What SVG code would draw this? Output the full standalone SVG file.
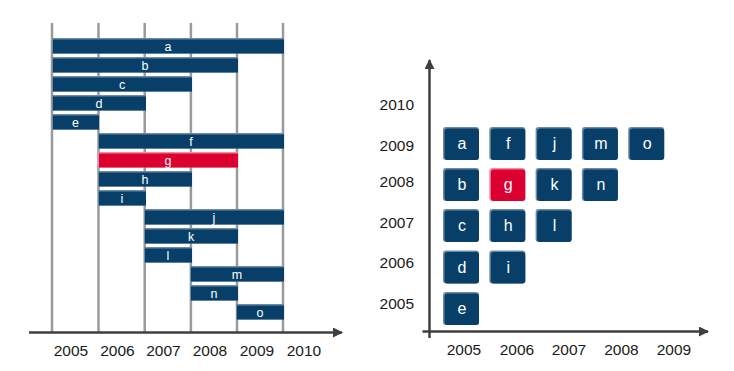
<svg xmlns="http://www.w3.org/2000/svg" width="734" height="371" viewBox="0 0 734 371">
<style>
.grid{stroke:#9a9a9a;stroke-width:2.5}
.axis{stroke:#3f3f3f;stroke-width:2.5;fill:none}
.hl{fill:#6d8aa3}
.bar{fill:#073f69}
.red{fill:#dc0030}
.hlr{fill:#f08a9e}
.lbl{font-family:"Liberation Sans",Arial,sans-serif;font-size:12.5px;fill:#ffffff;text-anchor:middle}
.sq{font-family:"Liberation Sans",Arial,sans-serif;font-size:16px;fill:#ffffff;text-anchor:middle}
.yr{font-family:"Liberation Sans",Arial,sans-serif;font-size:15.5px;fill:#1a1a1a}
</style>
<defs>
<marker id="arr" viewBox="0 0 10 10" refX="9" refY="5" markerWidth="4" markerHeight="4" orient="auto" markerUnits="strokeWidth">
<path d="M0,0 L10,5 L0,10 z" fill="#3f3f3f"/>
</marker>
</defs>
<rect width="734" height="371" fill="#ffffff"/>
<g id="connectors">
<line class="grid" x1="52" y1="23" x2="52" y2="332"/>
<line class="grid" x1="98.5" y1="23" x2="98.5" y2="332"/>
<line class="grid" x1="144.7" y1="23" x2="144.7" y2="332"/>
<line class="grid" x1="190.9" y1="23" x2="190.9" y2="332"/>
<line class="grid" x1="237" y1="23" x2="237" y2="332"/>
<line class="grid" x1="283" y1="23" x2="283" y2="332"/>
<line class="axis" x1="29" y1="332.5" x2="342" y2="332.5" marker-end="url(#arr)"/>
<line class="axis" x1="429.5" y1="338" x2="429.5" y2="60" marker-end="url(#arr)"/>
<line class="axis" x1="422.5" y1="331.5" x2="708" y2="331.5" marker-end="url(#arr)"/>
</g>
<g id="left-bars">
<g id="bar-a"><rect class="hl" x="52" y="38" width="232" height="15.5"/><rect class="bar" x="53" y="39.5" width="231" height="14"/><text class="lbl" x="168" y="50.5">a</text></g>
<g id="bar-b"><rect class="hl" x="52" y="57" width="186" height="15.5"/><rect class="bar" x="53" y="58.5" width="185" height="14"/><text class="lbl" x="145" y="69.5">b</text></g>
<g id="bar-c"><rect class="hl" x="52" y="76" width="140" height="15.5"/><rect class="bar" x="53" y="77.5" width="139" height="14"/><text class="lbl" x="122" y="88.5">c</text></g>
<g id="bar-d"><rect class="hl" x="52" y="95" width="94" height="15.5"/><rect class="bar" x="53" y="96.5" width="93" height="14"/><text class="lbl" x="99" y="107.5">d</text></g>
<g id="bar-e"><rect class="hl" x="52" y="114" width="47" height="15.5"/><rect class="bar" x="53" y="115.5" width="46" height="14"/><text class="lbl" x="75.5" y="126.5">e</text></g>
<g id="bar-f"><rect class="hl" x="98" y="133" width="186" height="15.5"/><rect class="bar" x="99" y="134.5" width="185" height="14"/><text class="lbl" x="191" y="145.5">f</text></g>
<g id="bar-g"><rect class="hlr" x="98" y="152" width="140" height="15.5"/><rect class="red" x="99" y="153.5" width="139" height="14"/><text class="lbl" x="168" y="164.5">g</text></g>
<g id="bar-h"><rect class="hl" x="98" y="171" width="94" height="15.5"/><rect class="bar" x="99" y="172.5" width="93" height="14"/><text class="lbl" x="145" y="183.5">h</text></g>
<g id="bar-i"><rect class="hl" x="98" y="190" width="48" height="15.5"/><rect class="bar" x="99" y="191.5" width="47" height="14"/><text class="lbl" x="122" y="202.5">i</text></g>
<g id="bar-j"><rect class="hl" x="144" y="209" width="140" height="15.5"/><rect class="bar" x="145" y="210.5" width="139" height="14"/><text class="lbl" x="214" y="221.5">j</text></g>
<g id="bar-k"><rect class="hl" x="144" y="228" width="94" height="15.5"/><rect class="bar" x="145" y="229.5" width="93" height="14"/><text class="lbl" x="191" y="240.5">k</text></g>
<g id="bar-l"><rect class="hl" x="144" y="247" width="48" height="15.5"/><rect class="bar" x="145" y="248.5" width="47" height="14"/><text class="lbl" x="168" y="259.5">l</text></g>
<g id="bar-m"><rect class="hl" x="190" y="266" width="94" height="15.5"/><rect class="bar" x="191" y="267.5" width="93" height="14"/><text class="lbl" x="237" y="278.5">m</text></g>
<g id="bar-n"><rect class="hl" x="190" y="285" width="48" height="15.5"/><rect class="bar" x="191" y="286.5" width="47" height="14"/><text class="lbl" x="214" y="297.5">n</text></g>
<g id="bar-o"><rect class="hl" x="236" y="304" width="48" height="15.5"/><rect class="bar" x="237" y="305.5" width="47" height="14"/><text class="lbl" x="260" y="316.5">o</text></g>
</g>
<g id="left-years">
<text class="yr" x="71" y="356" text-anchor="middle">2005</text>
<text class="yr" x="117.5" y="356" text-anchor="middle">2006</text>
<text class="yr" x="163.5" y="356" text-anchor="middle">2007</text>
<text class="yr" x="210" y="356" text-anchor="middle">2008</text>
<text class="yr" x="257" y="356" text-anchor="middle">2009</text>
<text class="yr" x="304" y="356" text-anchor="middle">2010</text>
</g>
<g id="right-squares">
<g id="sq-a"><rect class="hl" x="443" y="127" width="36" height="33" rx="3"/><rect class="bar" x="444.5" y="128.5" width="34.5" height="31.5" rx="3"/><text class="sq" x="462" y="149">a</text></g>
<g id="sq-f"><rect class="hl" x="489.3" y="127" width="36" height="33" rx="3"/><rect class="bar" x="490.8" y="128.5" width="34.5" height="31.5" rx="3"/><text class="sq" x="508.3" y="149">f</text></g>
<g id="sq-j"><rect class="hl" x="535.6" y="127" width="36" height="33" rx="3"/><rect class="bar" x="537.1" y="128.5" width="34.5" height="31.5" rx="3"/><text class="sq" x="554.6" y="149">j</text></g>
<g id="sq-m"><rect class="hl" x="581.9" y="127" width="36" height="33" rx="3"/><rect class="bar" x="583.4" y="128.5" width="34.5" height="31.5" rx="3"/><text class="sq" x="600.9" y="149">m</text></g>
<g id="sq-o"><rect class="hl" x="628.2" y="127" width="36" height="33" rx="3"/><rect class="bar" x="629.7" y="128.5" width="34.5" height="31.5" rx="3"/><text class="sq" x="647.2" y="149">o</text></g>
<g id="sq-b"><rect class="hl" x="443" y="168" width="36" height="33" rx="3"/><rect class="bar" x="444.5" y="169.5" width="34.5" height="31.5" rx="3"/><text class="sq" x="462" y="190">b</text></g>
<g id="sq-g"><rect class="hlr" x="489.3" y="168" width="36" height="33" rx="3"/><rect class="red" x="490.8" y="169.5" width="34.5" height="31.5" rx="3"/><text class="sq" x="508.3" y="190">g</text></g>
<g id="sq-k"><rect class="hl" x="535.6" y="168" width="36" height="33" rx="3"/><rect class="bar" x="537.1" y="169.5" width="34.5" height="31.5" rx="3"/><text class="sq" x="554.6" y="190">k</text></g>
<g id="sq-n"><rect class="hl" x="581.9" y="168" width="36" height="33" rx="3"/><rect class="bar" x="583.4" y="169.5" width="34.5" height="31.5" rx="3"/><text class="sq" x="600.9" y="190">n</text></g>
<g id="sq-c"><rect class="hl" x="443" y="209" width="36" height="33" rx="3"/><rect class="bar" x="444.5" y="210.5" width="34.5" height="31.5" rx="3"/><text class="sq" x="462" y="231">c</text></g>
<g id="sq-h"><rect class="hl" x="489.3" y="209" width="36" height="33" rx="3"/><rect class="bar" x="490.8" y="210.5" width="34.5" height="31.5" rx="3"/><text class="sq" x="508.3" y="231">h</text></g>
<g id="sq-l"><rect class="hl" x="535.6" y="209" width="36" height="33" rx="3"/><rect class="bar" x="537.1" y="210.5" width="34.5" height="31.5" rx="3"/><text class="sq" x="554.6" y="231">l</text></g>
<g id="sq-d"><rect class="hl" x="443" y="250.5" width="36" height="33" rx="3"/><rect class="bar" x="444.5" y="252" width="34.5" height="31.5" rx="3"/><text class="sq" x="462" y="272.5">d</text></g>
<g id="sq-i"><rect class="hl" x="489.3" y="250.5" width="36" height="33" rx="3"/><rect class="bar" x="490.8" y="252" width="34.5" height="31.5" rx="3"/><text class="sq" x="508.3" y="272.5">i</text></g>
<g id="sq-e"><rect class="hl" x="443" y="292" width="36" height="33" rx="3"/><rect class="bar" x="444.5" y="293.5" width="34.5" height="31.5" rx="3"/><text class="sq" x="462" y="314">e</text></g>
</g>
<g id="right-years">
<text class="yr" x="414" y="110" text-anchor="end">2010</text>
<text class="yr" x="414" y="151" text-anchor="end">2009</text>
<text class="yr" x="414" y="187" text-anchor="end">2008</text>
<text class="yr" x="414" y="228" text-anchor="end">2007</text>
<text class="yr" x="414" y="268" text-anchor="end">2006</text>
<text class="yr" x="414" y="309" text-anchor="end">2005</text>
<text class="yr" x="464" y="355" text-anchor="middle">2005</text>
<text class="yr" x="517" y="355" text-anchor="middle">2006</text>
<text class="yr" x="569" y="355" text-anchor="middle">2007</text>
<text class="yr" x="621.5" y="355" text-anchor="middle">2008</text>
<text class="yr" x="674" y="355" text-anchor="middle">2009</text>
</g>
</svg>
